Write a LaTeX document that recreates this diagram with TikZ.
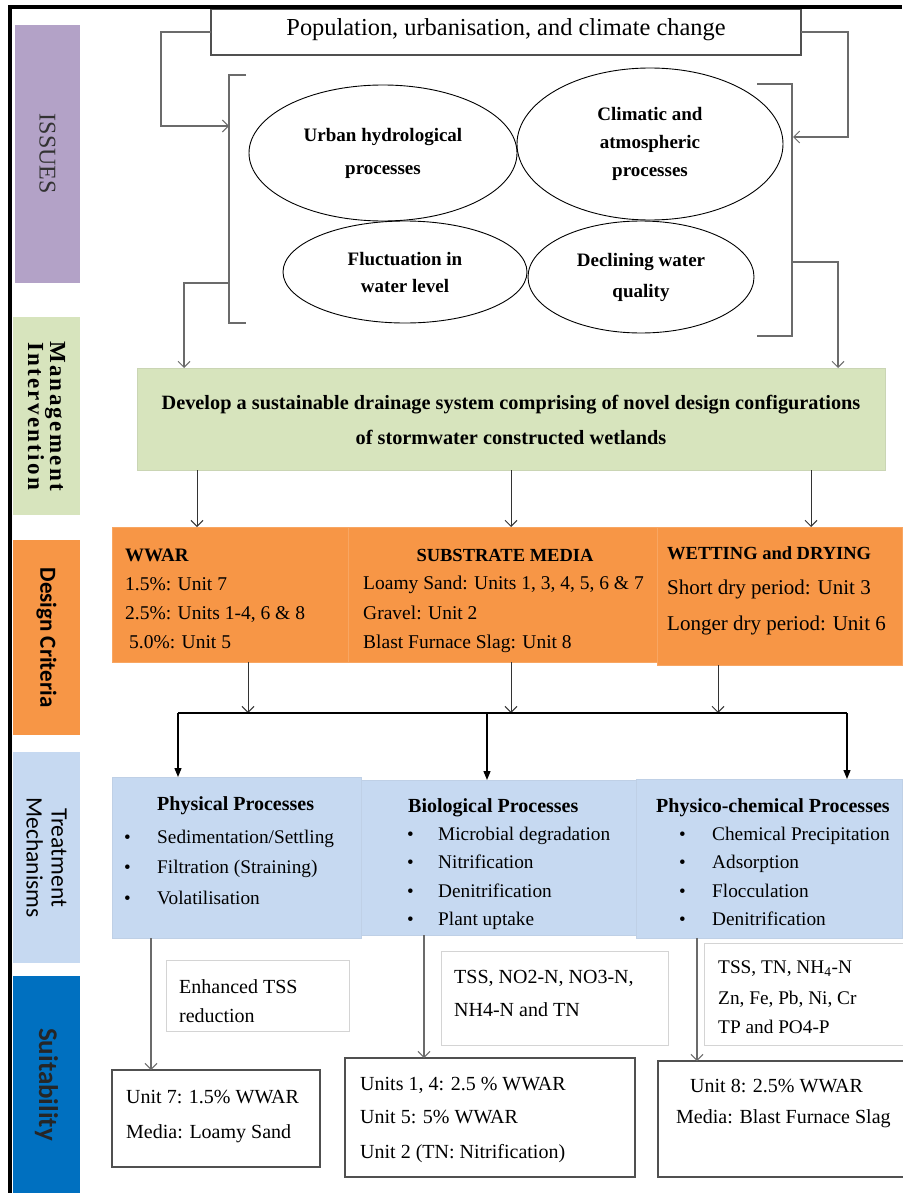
\documentclass[tikz,border=0pt]{standalone}
\usepackage{fontspec}
\setmainfont{Liberation Serif}
\newfontfamily\labelsans{Carlito}
\usetikzlibrary{arrows.meta,shapes.geometric}
\definecolor{issuepurple}{HTML}{B3A2C7}
\definecolor{mgmtgreen}{HTML}{D7E4BD}
\definecolor{critorange}{HTML}{F79646}
\definecolor{mechblue}{HTML}{C6D9F1}
\definecolor{suitblue}{HTML}{0070C0}
\definecolor{linegray}{HTML}{6B6B6B}
\definecolor{boxgray}{HTML}{D4D4D4}
\definecolor{darkframe}{HTML}{505050}
\newcommand{\fsz}[2]{\fontsize{#1}{#2}\selectfont}

\begin{document}
\begin{tikzpicture}[x=1pt,y=-1pt,
  box/.style={rectangle, inner sep=0pt, outer sep=0pt, anchor=north west},
  sidebox/.style={box, minimum width=67},
  sidelabel/.style={rotate=-90, inner sep=0pt, align=center},
  txt/.style={inner sep=0pt, anchor=base west},
  ctxt/.style={inner sep=0pt, anchor=base},
  oval/.style={ellipse, draw=black, line width=0.9pt, inner sep=0pt, align=center},
  feed/.style={draw=linegray, line width=1.4pt},
  thinlink/.style={draw=black!80, line width=0.9pt},
  openarrow/.style={-{Straight Barb[length=6pt,width=12pt,line width=1pt]}},
  fillarrow/.style={-{Triangle[length=9pt,width=7pt]}},
  info/.style={box, draw=boxgray, line width=1pt, fill=white},
  suit/.style={box, draw=darkframe, line width=1.3pt, fill=white},
  mech/.style={box, fill=mechblue, draw=mechblue!90!gray, line width=0.6pt},
  crit/.style={box, fill=critorange, draw=critorange!85!white, line width=0.6pt},
  orangetext/.style={txt, font=\fsz{19.5}{21}},
  wettext/.style={txt, font=\fsz{21}{23}},
  head/.style={txt, font=\bfseries\fsz{20}{22}},
  dot/.style={txt, font=\fsz{19}{21}},
  bullettext/.style={txt, font=\fsz{19.3}{21}},
  infotext/.style={txt, font=\fsz{20}{22}},
  suittext/.style={txt, font=\fsz{20}{22}}
]
\useasboundingbox (0,0) rectangle (902,1193);
\fill[white] (0,0) rectangle (902,1193);

% ---------- side bands ----------
\node[sidebox, fill=issuepurple, minimum width=65, minimum height=258] (sIssues) at (15,25) {};
\node[sidelabel, font=\fsz{24}{26}, text=black!80] at (sIssues.center) {ISSUES};

\node[sidebox, fill=mgmtgreen, minimum height=198] (sMgmt) at (13,317) {};
\node[sidelabel, font=\bfseries\fsz{23}{22}\addfontfeature{LetterSpace=10}] at (sMgmt.center) {Management\\Intervention};

\node[sidebox, fill=critorange, minimum height=195] (sCrit) at (13,540) {};
\node[sidelabel, font=\labelsans\bfseries\fsz{23}{25}] at (sCrit.center) {Design Criteria};

\node[sidebox, fill=mechblue, minimum height=211] (sMech) at (13,752) {};
\node[sidelabel, font=\labelsans\fsz{23.5}{25}] at (sMech.center) {Treatment\\Mechanisms};

\node[sidebox, fill=suitblue, minimum height=217] (sSuit) at (13,976) {};
\node[sidelabel, font=\labelsans\bfseries\fsz{27}{29}, text=black!85] at (sSuit.center) {Suitability};

% ---------- issues ----------
\node[box, draw=darkframe, line width=1.2pt, fill=white, minimum width=590, minimum height=46] (pop) at (211,9) {};
\node[font=\fsz{24.4}{26}, inner sep=0pt] at ([yshift=2]pop.center) {Population, urbanisation, and climate change};

\node[oval, minimum width=268, minimum height=136, font=\bfseries\fsz{19}{33}] (urban) at (383,153) {Urban hydrological\\processes};
\node[oval, minimum width=266, minimum height=152, font=\bfseries\fsz{19}{28}] (climatic) at (650,144) {Climatic and\\atmospheric\\processes};
\node[oval, minimum width=244, minimum height=102, font=\bfseries\fsz{19}{27}] (fluct) at (405,272) {Fluctuation in\\water level};
\node[oval, minimum width=226, minimum height=112, font=\bfseries\fsz{19}{31}] (decline) at (641,277) {Declining water\\quality};

% grouping brackets around the issues
\draw[feed] (246,75) -- (229,75) -- (229,323) -- (246,323);
\draw[feed] (757,84) -- (792,84) -- (792,336) -- (757,336);

\coordinate (lbturn) at (161,126);
\coordinate (lbin) at (229,126);
\coordinate (rbturn) at (848,137);
\coordinate (rbin) at (793,137);
\draw[feed, openarrow] (pop.west) -| (lbturn) -- (lbin);
\draw[feed, openarrow] (pop.east) -| (rbturn) -- (rbin);

% ---------- management intervention ----------
\node[box, fill=mgmtgreen, draw=mgmtgreen!85!gray, line width=0.6pt, minimum width=748, minimum height=102] (green) at (137,368) {};
\node[font=\bfseries\fsz{20.3}{35}, align=center, inner sep=0pt] at ([yshift=-1]green.center) {Develop a sustainable drainage system comprising of novel design configurations\\of stormwater constructed wetlands};

\coordinate (lbout) at (229,283);
\coordinate (lbdrop) at (184,283);
\coordinate (rbout) at (792,262);
\coordinate (rbdrop) at (838,262);
\draw[feed, openarrow] (lbout) -- (lbdrop) -- (lbdrop |- green.north);
\draw[feed, openarrow] (rbout) -- (rbdrop) -- (rbdrop |- green.north);

% ---------- design criteria ----------
\node[crit, minimum width=236, minimum height=135] (wwar) at (112,527) {};
\node[crit, minimum width=309, minimum height=135] (subs) at (348,527) {};
\node[crit, minimum width=245, minimum height=138] (wet) at (657,527) {};

\node[head, font=\bfseries\fsz{19}{21}] at (125,561) {WWAR};
\node[orangetext] at (125,590) {1.5\%: Unit 7};
\node[orangetext] at (125,619) {2.5\%: Units 1-4, 6 \& 8};
\node[orangetext] at (129,648) {5.0\%: Unit 5};

\node[ctxt, font=\bfseries\fsz{18.5}{20}] at (505,561) {SUBSTRATE MEDIA};
\node[orangetext] at (363,589) {Loamy Sand: Units 1, 3, 4, 5, 6 \& 7};
\node[orangetext] at (363,619) {Gravel: Unit 2};
\node[orangetext] at (363,648) {Blast Furnace Slag: Unit 8};

\node[head, font=\bfseries\fsz{18.5}{20}] at (667,559) {WETTING and DRYING};
\node[wettext] at (667,594) {Short dry period: Unit 3};
\node[wettext] at (667,630) {Longer dry period: Unit 6};

\coordinate (g1) at (197,0);
\coordinate (g2) at (511,0);
\coordinate (g3) at (811,0);
\draw[thinlink, openarrow] (green.south -| g1) -- (g1 |- wwar.north);
\draw[thinlink, openarrow] (green.south -| g2) -- (g2 |- subs.north);
\draw[thinlink, openarrow] (green.south -| g3) -- (g3 |- wet.north);

% ---------- distribution bar ----------
\coordinate (b1) at (248,713);
\coordinate (b2) at (511,713);
\coordinate (b3) at (718,713);
\coordinate (barL) at (178,713);
\coordinate (barM) at (487,713);
\coordinate (barR) at (847,713);
\draw[thinlink, openarrow] (b1 |- wwar.south) -- (b1);
\draw[thinlink, openarrow] (b2 |- subs.south) -- (b2);
\draw[thinlink, openarrow] (b3 |- wet.south) -- (b3);
\draw[black, line width=1.3pt] (barL) -- (barR);

% ---------- treatment mechanisms ----------
\node[mech, minimum width=249, minimum height=161] (phys) at (112,777) {};
\node[mech, minimum width=292, minimum height=155] (bio) at (361,780) {};
\node[mech, minimum width=266, minimum height=159] (pchem) at (636,779) {};

\draw[black, line width=1.3pt, fillarrow] (barL) -- (barL |- phys.north);
\draw[black, line width=1.3pt, fillarrow] (barM) -- (barM |- bio.north);
\draw[black, line width=1.3pt, fillarrow] (barR) -- (barR |- pchem.north);

\node[head] at (157,810) {Physical Processes};
\node[dot] at (124,843) {•};
\node[bullettext] at (157,843) {Sedimentation/Settling};
\node[dot] at (124,873) {•};
\node[bullettext] at (157,873) {Filtration (Straining)};
\node[dot] at (124,904) {•};
\node[bullettext] at (157,904) {Volatilisation};

\node[head] at (408,812) {Biological Processes};
\node[dot] at (407,840) {•};
\node[bullettext] at (438,840) {Microbial degradation};
\node[dot] at (407,868) {•};
\node[bullettext] at (438,868) {Nitrification};
\node[dot] at (407,897) {•};
\node[bullettext] at (438,897) {Denitrification};
\node[dot] at (407,925) {•};
\node[bullettext] at (438,925) {Plant uptake};

\node[head] at (656,812) {Physico-chemical Processes};
\node[dot] at (679,840) {•};
\node[bullettext] at (712,840) {Chemical Precipitation};
\node[dot] at (679,868) {•};
\node[bullettext] at (712,868) {Adsorption};
\node[dot] at (679,897) {•};
\node[bullettext] at (712,897) {Flocculation};
\node[dot] at (679,925) {•};
\node[bullettext] at (712,925) {Denitrification};

% ---------- pollutants removed ----------
\node[info, minimum width=183, minimum height=71] (rem1) at (166,960) {};
\node[infotext] at (179,993) {Enhanced TSS};
\node[infotext] at (179,1022) {reduction};

\node[info, minimum width=227, minimum height=94] (rem2) at (441,951) {};
\node[infotext] at (454,983) {TSS, NO2-N, NO3-N,};
\node[infotext] at (454,1016) {NH4-N and TN};

\node[info, minimum width=205, minimum height=102] (rem3) at (704,943) {};
\node[infotext, font=\fsz{19.3}{21}] at (718,973) {TSS, TN, NH\textsubscript{4}-N};
\node[infotext, font=\fsz{19.3}{21}] at (718,1004) {Zn, Fe, Pb, Ni, Cr};
\node[infotext, font=\fsz{19.3}{21}] at (718,1033) {TP and PO4-P};

% ---------- suitability ----------
\node[suit, minimum width=208, minimum height=97] (suit1) at (112,1070) {};
\node[suittext] at (126,1103) {Unit 7: 1.5\% WWAR};
\node[suittext] at (126,1138) {Media: Loamy Sand};

\node[suit, minimum width=290, minimum height=119] (suit2) at (345,1058) {};
\node[suittext] at (360,1090) {Units 1, 4: 2.5 \% WWAR};
\node[suittext] at (360,1123) {Unit 5: 5\% WWAR};
\node[suittext] at (360,1158) {Unit 2 (TN: Nitrification)};

\node[suit, minimum width=250, minimum height=116] (suit3) at (658,1061) {};
\node[suittext] at (690,1092) {Unit 8: 2.5\% WWAR};
\node[suittext] at (676,1123) {Media: Blast Furnace Slag};

\coordinate (d1) at (151,0);
\coordinate (d2) at (424,0);
\coordinate (d3) at (697,0);
\draw[feed, openarrow] (phys.south -| d1) -- (d1 |- suit1.north);
\draw[feed, openarrow] (bio.south -| d2) -- (d2 |- suit2.north);
\draw[feed, openarrow] (pchem.south -| d3) -- (d3 |- suit3.north);

% ---------- outer frame ----------
\draw[black, line width=3.5pt] (10,1193) -- (10,7) -- (902,7);
\end{tikzpicture}
\end{document}
